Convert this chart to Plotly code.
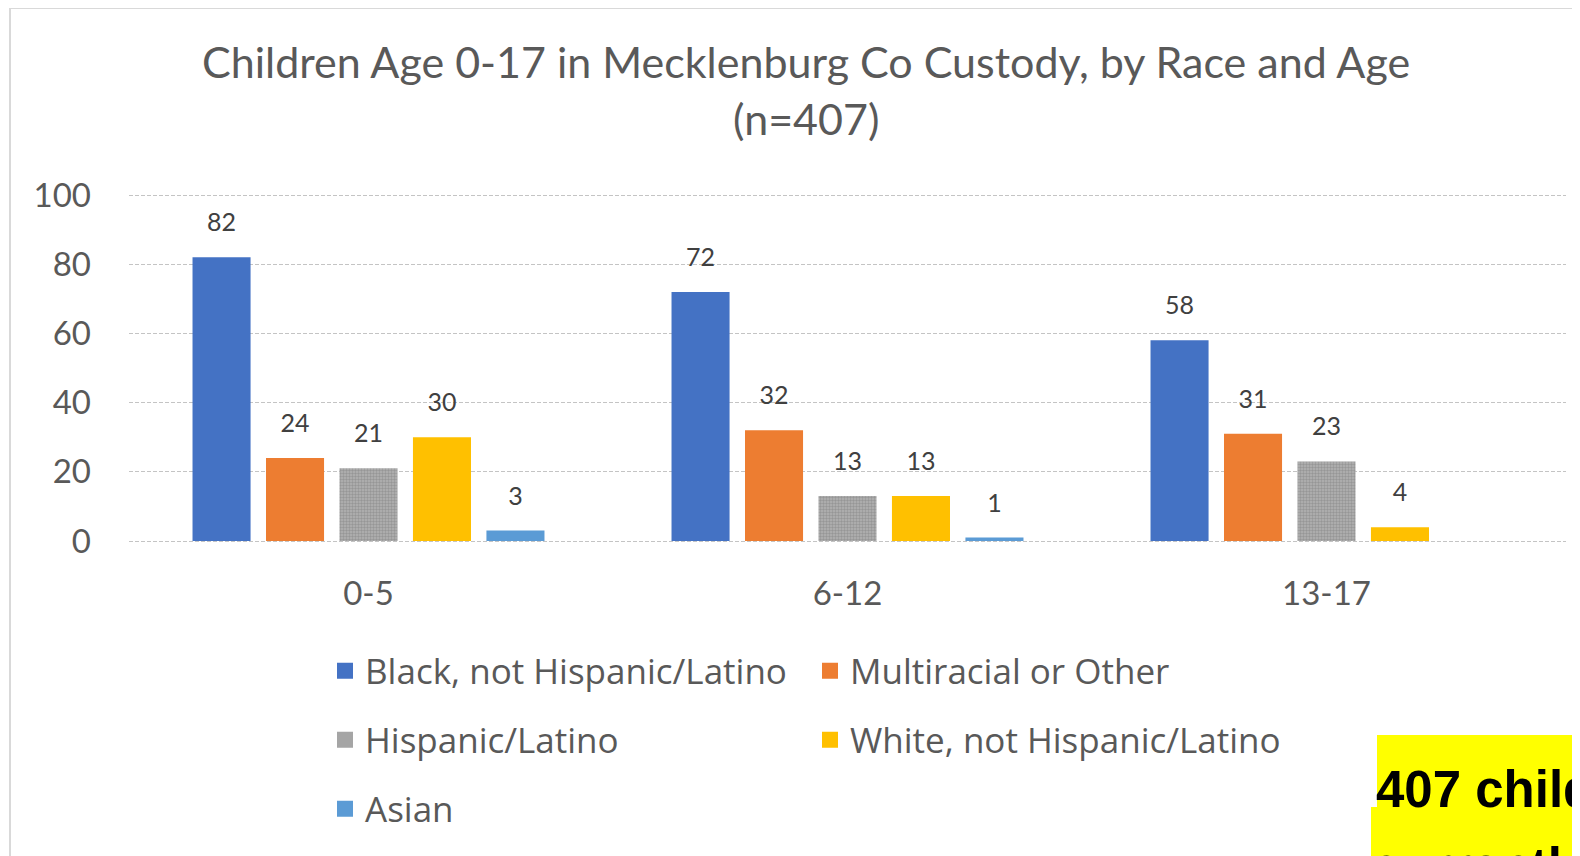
import plotly.graph_objects as go

# ---- data ----
age_groups = ["0-5", "6-12", "13-17"]
series_names = [
    "Black, not Hispanic/Latino",
    "Multiracial or Other",
    "Hispanic/Latino",
    "White, not Hispanic/Latino",
    "Asian",
]
black = [82, 72, 58]
multiracial = [24, 32, 31]
hispanic = [21, 13, 23]
white = [30, 13, 4]
asian = [3, 1, None]
y_ticks = [0, 20, 40, 60, 80, 100]

title_line1 = "Children Age 0-17 in Mecklenburg Co Custody, by Race and Age"
title_line2 = "(n=407)"
note_line1 = "407 children"
note_line2 = "currently in custody"

# ---- style ----
colors = ["#4472C4", "#ED7D31", "#A5A5A5", "#FFC000", "#5B9BD5"]
legend_ids = ["legend", "legend", "legend2", "legend2", "legend3"]
FONT = "Lato"
LFONT = "Open Sans"
TXT = "#595959"

# page is offset by the 8px body margin
OFF = 8
W, H = 1580 - OFF, 856 - OFF
PAD = 2  # extra px so that the 0 and 100 gridlines are drawn
PLOT_L, PLOT_R, PLOT_T, PLOT_B = 129, 1566, 195 - PAD, 541 + PAD   # page coords
ML = PLOT_L - OFF
MT = PLOT_T - OFF
MR = W - (PLOT_R - OFF)
MB = H - (PLOT_B - OFF)
PW = PLOT_R - PLOT_L
PH = PLOT_B - PLOT_T
UNIT = (PH - 2 * PAD) / 100.0
Y_RANGE = [-PAD / UNIT, 100 + PAD / UNIT]


def px_x(px):
    return (px - PLOT_L) / PW


def px_y(py):
    return (PLOT_B - py) / PH


all_values = [black, multiracial, hispanic, white, asian]

fig = go.Figure()

for name, vals, col in zip(series_names, all_values, colors):
    marker = dict(color=col, line=dict(width=0))
    if name == "Hispanic/Latino":
        marker["pattern"] = dict(shape=".", fgcolor="#969696", bgcolor="#B4B4B4",
                                 size=3, solidity=0.5, fillmode="replace")
    fig.add_trace(go.Bar(
        x=age_groups, y=vals, name=name, marker=marker, showlegend=False,
        hoverinfo="skip",
    ))

# data labels (grouped scatter aligned with bars)
for name, vals in zip(series_names, all_values):
    fig.add_trace(go.Scatter(
        x=age_groups, y=vals, mode="markers+text",
        text=[("" if v is None else str(v)) for v in vals],
        textposition="top center",
        textfont=dict(family=FONT, size=25, color="#404040"),
        marker=dict(size=30, opacity=0),
        showlegend=False, hoverinfo="skip", cliponaxis=False,
    ))

# legend proxies on a hidden subplot
for name, col, lid in zip(series_names, colors, legend_ids):
    fig.add_trace(go.Scatter(
        x=[None], y=[None], mode="markers", name=name,
        marker=dict(symbol="square", size=21, color=col, line=dict(width=0)),
        legend=lid, showlegend=True, xaxis="x2", yaxis="y2",
    ))

legend_common = dict(
    orientation="h", xanchor="left", yanchor="middle",
    x=px_x(325), entrywidth=440, entrywidthmode="pixels",
    font=dict(family=LFONT, size=35, color=TXT),
    bgcolor="rgba(0,0,0,0)", itemsizing="trace",
)

fig.update_layout(
    width=W, height=H,
    margin=dict(l=ML, r=MR, t=MT, b=MB),
    paper_bgcolor="white", plot_bgcolor="white",
    barmode="group", bargap=0.233, bargroupgap=0.21,
    scattermode="group",
    font=dict(family=FONT, color=TXT),
    legend=dict(legend_common, y=px_y(671)),
    legend2=dict(legend_common, y=px_y(740)),
    legend3=dict(legend_common, y=px_y(809)),
    xaxis=dict(
        showgrid=False, showline=False, zeroline=False, ticks="",
        tickfont=dict(family=FONT, size=33, color=TXT),
        ticklabelstandoff=28,
    ),
    yaxis=dict(
        range=Y_RANGE, tickvals=y_ticks, showgrid=True,
        gridcolor="#C4C4C4", griddash="4px,2px", gridwidth=1,
        zeroline=False, showline=False, ticks="",
        tickfont=dict(family=FONT, size=33, color=TXT),
        ticklabelstandoff=37,
    ),
    xaxis2=dict(visible=False, overlaying="x"),
    yaxis2=dict(visible=False, overlaying="y"),
    annotations=[
        dict(text=title_line1, xref="paper", yref="paper", x=px_x(806), y=px_y(62),
             xanchor="center", yanchor="middle", showarrow=False,
             font=dict(family=FONT, size=43, color=TXT)),
        dict(text=title_line2, xref="paper", yref="paper", x=px_x(806), y=px_y(119),
             xanchor="center", yanchor="middle", showarrow=False,
             font=dict(family=FONT, size=43, color=TXT)),
        dict(text="<b>" + note_line1 + "</b>", xref="paper", yref="paper",
             x=px_x(1374), y=px_y(789), xanchor="left", yanchor="middle",
             showarrow=False,
             font=dict(family="Liberation Sans", size=51, color="black")),
        dict(text="<b>" + note_line2 + "</b>", xref="paper", yref="paper",
             x=px_x(1370), y=px_y(866), xanchor="left", yanchor="middle",
             showarrow=False,
             font=dict(family="Liberation Sans", size=51, color="black")),
    ],
    shapes=[
        dict(type="rect", xref="paper", yref="paper", layer="below",
             x0=px_x(10), x1=px_x(1700), y0=px_y(1000), y1=px_y(8),
             line=dict(color="#D9D9D9", width=2), fillcolor="rgba(0,0,0,0)"),
        dict(type="rect", xref="paper", yref="paper", layer="below",
             x0=px_x(1377), x1=px_x(1700), y0=px_y(807), y1=px_y(735),
             line=dict(width=0), fillcolor="#FFFF00"),
        dict(type="rect", xref="paper", yref="paper", layer="below",
             x0=px_x(1371), x1=px_x(1700), y0=px_y(1000), y1=px_y(807),
             line=dict(width=0), fillcolor="#FFFF00"),
    ],
)

fig.write_html("out.html")
